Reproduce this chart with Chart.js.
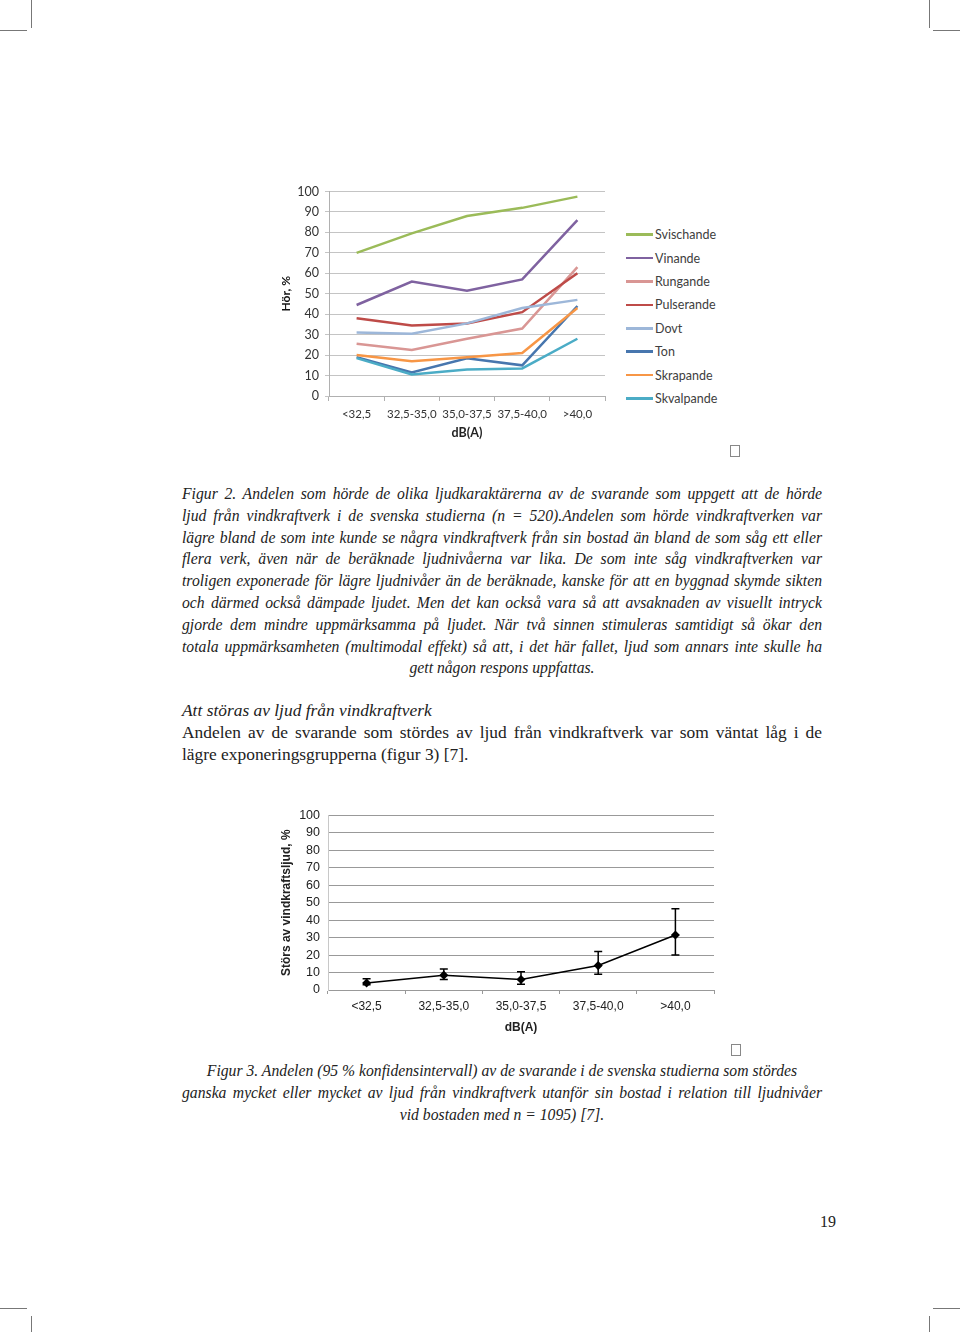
<!DOCTYPE html>
<html>
<head>
<meta charset="utf-8">
<script src="https://cdn.jsdelivr.net/npm/chart.js@4"></script>
<style>
body { margin: 0; width: 960px; height: 1332px; position: relative; background: #fff; overflow: hidden; }
.box { position: absolute; }
.txt { position: absolute; left: 182px; width: 640px; font-family: "Liberation Serif", serif; font-size: 15.7px; line-height: 21.8px; color: #222; }
.it { font-style: italic; }
.j { text-align: justify; text-align-last: justify; }
.c { text-align: center; }
.mark { position: absolute; background: #777; }
.tofu { position: absolute; width: 8px; height: 10px; border: 1px solid #888; }
#legend1 { position: absolute; left: 626px; top: 223px; font-family: Lato, sans-serif; font-size: 12.5px; color: #404040; }
#legend1 div { height: 23.4px; display: flex; align-items: center; }
#legend1 span.ln { display: inline-block; width: 27px; height: 2.5px; margin-right: 2px; }
</style>
</head>
<body>
<div class="mark" style="left:31px;top:0;width:1px;height:28px"></div>
<div class="mark" style="left:0;top:30px;width:27px;height:1px"></div>
<div class="mark" style="left:929px;top:0;width:1px;height:28px"></div>
<div class="mark" style="left:933px;top:30px;width:27px;height:1px"></div>
<div class="mark" style="left:0;top:1308px;width:27px;height:1px"></div>
<div class="mark" style="left:31px;top:1316px;width:1px;height:16px"></div>
<div class="mark" style="left:933px;top:1308px;width:27px;height:1px"></div>
<div class="mark" style="left:929px;top:1316px;width:1px;height:16px"></div>

<div class="box" style="left:274px;top:178px;width:340px;height:267px"><canvas id="c1"></canvas></div>
<div id="legend1"></div>
<div class="tofu" style="left:730px;top:445px"></div>

<div class="txt it" style="top:483px">
<div class="j">Figur 2. Andelen som hörde de olika ljudkaraktärerna av de svarande som uppgett att de hörde</div>
<div class="j">ljud från vindkraftverk i de svenska studierna (n = 520).Andelen som hörde vindkraftverken var</div>
<div class="j">lägre bland de som inte kunde se några vindkraftverk från sin bostad än bland de som såg ett eller</div>
<div class="j">flera verk, även när de beräknade ljudnivåerna var lika. De som inte såg vindkraftverken var</div>
<div class="j">troligen exponerade för lägre ljudnivåer än de beräknade, kanske för att en byggnad skymde sikten</div>
<div class="j">och därmed också dämpade ljudet. Men det kan också vara så att avsaknaden av visuellt intryck</div>
<div class="j">gjorde dem mindre uppmärksamma på ljudet. När två sinnen stimuleras samtidigt så ökar den</div>
<div class="j">totala uppmärksamheten (multimodal effekt) så att, i det här fallet, ljud som annars inte skulle ha</div>
<div class="c">gett någon respons uppfattas.</div>
</div>

<div class="txt" style="top:700px;font-size:17.4px">
<div class="it">Att störas av ljud från vindkraftverk</div>
<div class="j">Andelen av de svarande som stördes av ljud från vindkraftverk var som väntat låg i de</div>
<div>lägre exponeringsgrupperna (figur 3) [7].</div>
</div>

<div class="box" style="left:270px;top:800px;width:455px;height:240px"><canvas id="c2"></canvas></div>
<div class="tofu" style="left:731px;top:1044px"></div>

<div class="txt it" style="top:1060px">
<div class="c">Figur 3. Andelen (95 % konfidensintervall) av de svarande i de svenska studierna som stördes</div>
<div class="j">ganska mycket eller mycket av ljud från vindkraftverk utanför sin bostad i relation till ljudnivåer</div>
<div class="c">vid bostaden med n = 1095) [7].</div>
</div>

<div class="txt" style="top:1211px;text-align:right;width:654px;font-size:16px">19</div>

<script>
// Figur 2 data
var kategorier = ['<32,5', '32,5-35,0', '35,0-37,5', '37,5-40,0', '>40,0'];
var serieNamn = ['Svischande', 'Vinande', 'Rungande', 'Pulserande', 'Dovt', 'Ton', 'Skrapande', 'Skvalpande'];
var svischande = [70, 79.5, 88, 92, 97.5];
var vinande = [44.5, 56, 51.5, 57, 86];
var rungande = [25.5, 22.5, 28, 33, 63];
var pulserande = [38, 34.5, 35.5, 41, 60];
var dovt = [31, 30.5, 35.5, 43, 47];
var ton = [19, 11.5, 18.5, 15, 44];
var skrapande = [20, 17, 19, 21, 43];
var skvalpande = [18.5, 10.5, 13, 13.5, 28];
var yTicks1 = [0, 10, 20, 30, 40, 50, 60, 70, 80, 90, 100];

// Figur 3 data
var stors = [4, 8.5, 6, 14, 31.5];
var storsLag = [3, 6, 3.3, 9, 20];
var storsHog = [6.5, 12, 10.5, 22, 46.5];

const farger = ['#9bbb59', '#7f62a0', '#d99694', '#be4b48', '#9db7d9', '#4776ae', '#f79646', '#4bacc6'];
const serier = [svischande, vinande, rungande, pulserande, dovt, ton, skrapande, skvalpande];

// egen legend
const leg = document.getElementById('legend1');
serieNamn.forEach((n, i) => {
	const d = document.createElement('div');
	d.innerHTML = '<span class="ln" style="background:' + farger[i] + '"></span>' + n;
	leg.appendChild(d);
});

const ctx1 = document.getElementById('c1');
new Chart(ctx1, {
	type: 'line',
	data: {
		labels: kategorier,
		datasets: serier.map((s, i) => ({
			label: serieNamn[i],
			data: s,
			borderColor: farger[i],
			borderWidth: 2.5,
			pointRadius: 0,
			tension: 0
		})).reverse()
	},
	options: {
		animation: false,
		responsive: true,
		maintainAspectRatio: false,
		layout: { padding: { top: 7, right: 9, bottom: 0, left: 0 } },
		plugins: { legend: { display: false }, tooltip: { enabled: false } },
		scales: {
			x: {
				offset: true,
				grid: { offset: true, drawOnChartArea: false, drawTicks: true, tickLength: 5, color: '#b0b0b0' },
				border: { color: '#b0b0b0' },
				ticks: { color: '#333', font: { family: 'Lato', size: 11.5 }, padding: 6, maxRotation: 0, autoSkip: false },
				title: { display: true, text: 'dB(A)', color: '#222', font: { family: 'Lato', size: 12.5, weight: 'bold' }, padding: { bottom: 5 } },
				afterFit: s => { s.height = 49; }
			},
			y: {
				min: 0, max: 100,
				afterBuildTicks: s => { s.ticks = yTicks1.map(v => ({ value: v })); },
				grid: { color: '#c4c4c4', tickLength: 4 },
				border: { color: '#b0b0b0' },
				ticks: { color: '#333', font: { family: 'Lato', size: 12.5 }, padding: 6, autoSkip: false },
				title: { display: true, text: 'Hör, %', color: '#111', font: { family: 'Lato', size: 12, weight: 'bold' }, padding: { top: 5 } },
				afterFit: s => { s.width = 55; }
			}
		}
	}
});

// felstaplar
const felstaplar = {
	id: 'felstaplar',
	afterDatasetsDraw(chart) {
		const c = chart.ctx, xs = chart.scales.x, ys = chart.scales.y;
		c.save();
		c.strokeStyle = '#000';
		c.lineWidth = 1.5;
		for (let i = 0; i < stors.length; i++) {
			const x = xs.getPixelForValue(i);
			const y1 = ys.getPixelForValue(storsLag[i]);
			const y2 = ys.getPixelForValue(storsHog[i]);
			c.beginPath();
			c.moveTo(x, y1); c.lineTo(x, y2);
			c.moveTo(x - 4, y1); c.lineTo(x + 4, y1);
			c.moveTo(x - 4, y2); c.lineTo(x + 4, y2);
			c.stroke();
		}
		c.restore();
	}
};

const ctx2 = document.getElementById('c2');
new Chart(ctx2, {
	type: 'line',
	data: {
		labels: kategorier,
		datasets: [{
			label: 'Störs',
			data: stors,
			borderColor: '#000',
			backgroundColor: '#000',
			borderWidth: 1.5,
			pointStyle: 'rectRot',
			pointRadius: 3.5,
			tension: 0
		}]
	},
	plugins: [felstaplar],
	options: {
		animation: false,
		responsive: true,
		maintainAspectRatio: false,
		layout: { padding: { top: 10, right: 11, bottom: 0, left: 0 } },
		plugins: { legend: { display: false }, tooltip: { enabled: false } },
		scales: {
			x: {
				offset: true,
				grid: { offset: true, drawOnChartArea: false, drawTicks: true, tickLength: 4, color: '#999' },
				border: { color: '#999' },
				ticks: { color: '#222', font: { family: 'Liberation Sans', size: 12 }, padding: 5, maxRotation: 0, autoSkip: false },
				title: { display: true, text: 'dB(A)', color: '#222', font: { family: 'Liberation Sans', size: 12, weight: 'bold' }, padding: { bottom: 5 } },
				afterFit: s => { s.height = 50; }
			},
			y: {
				min: 0, max: 100,
				afterBuildTicks: s => { s.ticks = yTicks1.map(v => ({ value: v })); },
				grid: { color: '#999', drawTicks: false },
				border: { color: '#c8c8c8' },
				ticks: { color: '#222', font: { family: 'Liberation Sans', size: 12.5 }, padding: 8, autoSkip: false },
				title: { display: true, text: 'Störs av vindkraftsljud, %', color: '#222', font: { family: 'Liberation Sans', size: 12, weight: 'bold' }, padding: { top: 9 } },
				afterFit: s => { s.width = 58; }
			}
		}
	}
});
</script>
</body>
</html>
